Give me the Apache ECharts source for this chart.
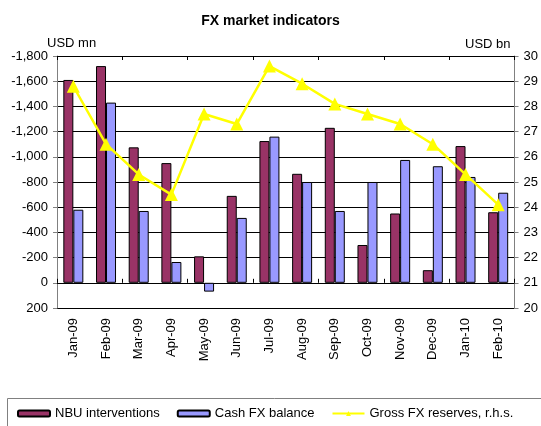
<!DOCTYPE html>
<html>
<head>
<meta charset="utf-8">
<script src="https://cdn.jsdelivr.net/npm/echarts@6/dist/echarts.min.js"></script>
<style>
  html, body { margin: 0; padding: 0; background: #fff; }
  #chart { width: 541px; height: 426px; }
</style>
</head>
<body>
<div id="chart"></div>
<script>
// data (left axis inverted: sales shown as negative)
const months = ['Jan-09', 'Feb-09', 'Mar-09', 'Apr-09', 'May-09', 'Jun-09', 'Jul-09',
  'Aug-09', 'Sep-09', 'Oct-09', 'Nov-09', 'Dec-09', 'Jan-10', 'Feb-10']
const nbuInterventions = [-1610, -1720, -1075, -950, -210, -690, -1125, -865, -1230, -300, -550, -100, -1085, -560]
const cashFxBalance = [-580, -1430, -570, -165, 70, -515, -1160, -800, -570, -800, -975, -925, -840, -715]
const grossReserves = [28.8, 26.5, 25.3, 24.5, 27.7, 27.3, 29.6, 28.9, 28.1, 27.7, 27.3, 26.5, 25.3, 24.1]

const font = 'Liberation Sans, Arial, sans-serif'
const chart = echarts.init(document.getElementById('chart'))

const fmtThousands = (v) => {
  const s = Math.abs(v).toLocaleString('en-US')
  return (v < 0 ? '-' : '') + s
}

chart.setOption({
  animation: false,
  textStyle: { fontFamily: font, color: '#000' },
  title: {
    text: 'FX market indicators',
    left: 'center',
    top: 9,
    textStyle: { fontFamily: font, fontSize: 14, fontWeight: 'bold', color: '#000' }
  },
  graphic: [{
    type: 'rect',
    left: 5, top: 396,
    shape: { width: 545, height: 40 },
    style: { fill: 'none', stroke: '#808080', lineWidth: 1 }
  }],
  legend: {
    left: 12,
    top: 402,
    itemWidth: 32,
    itemHeight: 6,
    itemGap: 17,
    textStyle: { fontFamily: font, fontSize: 13, color: '#000' },
    data: ['NBU interventions', 'Cash FX balance', 'Gross FX reserves, r.h.s.']
  },
  grid: { left: 57, right: 24, top: 56, bottom: 118 },
  xAxis: [
    {
      type: 'category',
      data: months,
      position: 'bottom',
      axisLine: { onZero: false, show: false },
      axisTick: { show: false },
      axisLabel: { rotate: 90, fontSize: 13, color: '#000', fontFamily: font, margin: 10 }
    },
    {
      type: 'category',
      data: months,
      axisLine: { onZero: true, lineStyle: { color: '#000', width: 1 } },
      axisTick: { show: true, length: 4, lineStyle: { color: '#000' } },
      axisLabel: { show: false }
    },
    {
      type: 'category',
      data: months,
      axisLine: { onZero: true, show: false },
      axisTick: { show: true, inside: true, length: 4, lineStyle: { color: '#000' } },
      axisLabel: { show: false }
    }
  ],
  yAxis: [
    {
      type: 'value',
      inverse: true,
      min: -1800,
      max: 200,
      interval: 200,
      name: 'USD mn',
      nameLocation: 'start',
      nameGap: 5,
      nameTextStyle: { fontFamily: font, fontSize: 13, color: '#000', align: 'left', padding: [0, 0, 0, -10] },
      axisLine: { show: true, lineStyle: { color: '#808080' } },
      axisTick: { show: true, length: 4, lineStyle: { color: '#808080' } },
      axisLabel: { fontSize: 13, color: '#000', fontFamily: font, formatter: fmtThousands, margin: 9 },
      splitLine: { show: true, lineStyle: { color: '#000', width: 1 } }
    },
    {
      type: 'value',
      min: 20,
      max: 30,
      interval: 1,
      position: 'right',
      name: 'USD bn',
      nameGap: 5,
      nameTextStyle: { fontFamily: font, fontSize: 13, color: '#000', align: 'right', padding: [0, 4, 0, 0] },
      axisLine: { show: true, lineStyle: { color: '#808080' } },
      axisTick: { show: true, length: 4, lineStyle: { color: '#808080' } },
      axisLabel: { fontSize: 13, color: '#000', fontFamily: font, margin: 9 },
      splitLine: { show: false }
    }
  ],
  series: [
    {
      name: 'NBU interventions',
      type: 'bar',
      data: nbuInterventions,
      barWidth: 10,
      barGap: '0%',
      itemStyle: { color: '#993366', borderColor: '#000', borderWidth: 1 }
    },
    {
      name: 'Cash FX balance',
      type: 'bar',
      data: cashFxBalance,
      barWidth: 10,
      barGap: '0%',
      itemStyle: { color: '#9999FF', borderColor: '#000', borderWidth: 1 }
    },
    {
      name: 'Gross FX reserves, r.h.s.',
      type: 'line',
      yAxisIndex: 1,
      data: grossReserves,
      symbol: 'triangle',
      symbolSize: 13,
      lineStyle: { color: '#FFFF00', width: 2.5 },
      itemStyle: { color: '#FFFF00' },
      z: 5
    }
  ]
})
</script>
</body>
</html>
